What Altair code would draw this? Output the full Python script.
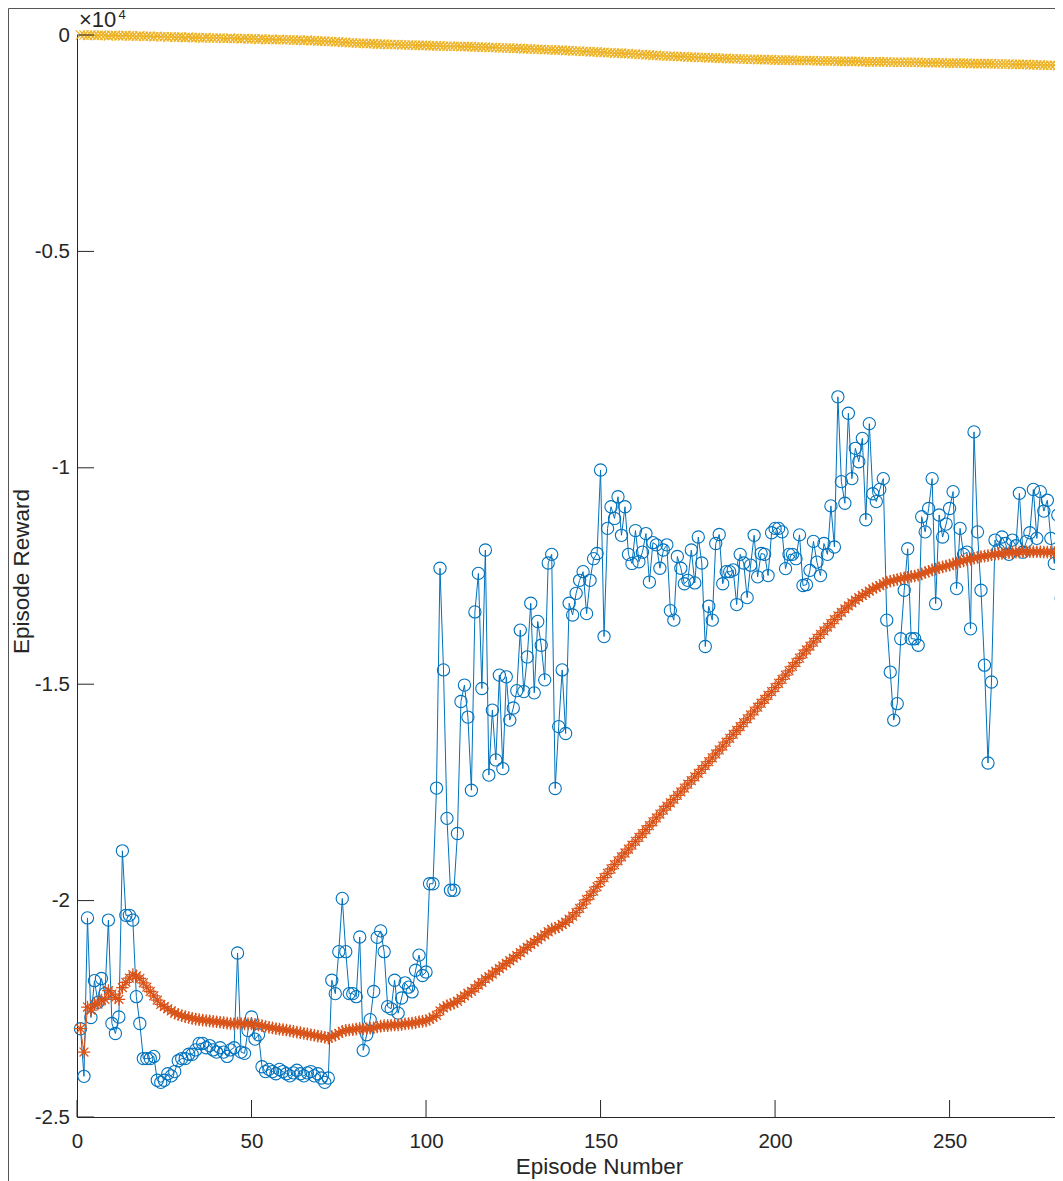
import altair as alt
import pandas as pd

# ---------------- data (rewards in units of 10^4) ----------------
episode_reward = [
    -2.296, -2.406, -2.040, -2.270, -2.185, -2.235, -2.180, -2.215, -2.045, -2.284,
    -2.307, -2.269, -1.885, -2.034, -2.034, -2.045, -2.222, -2.284, -2.365, -2.365,
    -2.365, -2.360, -2.415, -2.420, -2.415, -2.400, -2.405, -2.395, -2.370, -2.365,
    -2.365, -2.355, -2.355, -2.345, -2.330, -2.330, -2.340, -2.335, -2.345, -2.350,
    -2.340, -2.350, -2.360, -2.345, -2.340, -2.121, -2.350, -2.353, -2.300, -2.269,
    -2.320, -2.310, -2.384, -2.395, -2.390, -2.395, -2.400, -2.390, -2.395, -2.400,
    -2.405, -2.398, -2.392, -2.400, -2.405, -2.398, -2.395, -2.405, -2.400, -2.410,
    -2.420, -2.410, -2.184, -2.215, -2.118, -1.995, -2.118, -2.215, -2.215, -2.222,
    -2.084, -2.346, -2.310, -2.275, -2.210, -2.085, -2.070, -2.118, -2.245, -2.250,
    -2.184, -2.260, -2.225, -2.190, -2.200, -2.211, -2.161, -2.126, -2.173, -2.165,
    -1.961, -1.961, -1.740, -1.232, -1.467, -1.810, -1.976, -1.976, -1.845, -1.540,
    -1.502, -1.576, -1.745, -1.333, -1.244, -1.510, -1.190, -1.710, -1.560, -1.675,
    -1.479, -1.695, -1.483, -1.583, -1.555, -1.515, -1.375, -1.517, -1.437, -1.313,
    -1.520, -1.355, -1.410, -1.490, -1.220, -1.200, -1.741, -1.598, -1.467, -1.614,
    -1.313, -1.340, -1.290, -1.260, -1.240, -1.337, -1.260, -1.210, -1.198, -1.005,
    -1.390, -1.140, -1.090, -1.117, -1.067, -1.156, -1.090, -1.200, -1.221, -1.145,
    -1.217, -1.195, -1.152, -1.264, -1.173, -1.178, -1.232, -1.190, -1.178, -1.330,
    -1.352, -1.205, -1.232, -1.268, -1.260, -1.190, -1.266, -1.160, -1.220, -1.413,
    -1.320, -1.352, -1.175, -1.154, -1.268, -1.240, -1.240, -1.236, -1.316, -1.200,
    -1.220, -1.300, -1.225, -1.156, -1.252, -1.198, -1.200, -1.249, -1.150, -1.140,
    -1.140, -1.148, -1.233, -1.200, -1.200, -1.210, -1.155, -1.272, -1.270, -1.237,
    -1.170, -1.218, -1.249, -1.175, -1.200, -1.088, -1.183, -0.836, -1.032, -1.082,
    -0.874, -1.025, -0.955, -0.986, -0.932, -1.120, -0.898, -1.060, -1.078, -1.050,
    -1.025, -1.352, -1.472, -1.583, -1.545, -1.395, -1.283, -1.187, -1.395, -1.395,
    -1.410, -1.113, -1.148, -1.094, -1.025, -1.314, -1.109, -1.160, -1.130, -1.094,
    -1.055, -1.279, -1.140, -1.200, -1.195, -1.372, -0.917, -1.148, -1.283, -1.456,
    -1.682, -1.495, -1.167, -1.190, -1.160, -1.175, -1.200, -1.167, -1.180, -1.059,
    -1.195, -1.170, -1.150, -1.050, -1.163, -1.055, -1.100, -1.075, -1.163, -1.221,
    -1.109, -1.302, -1.200,
]

average_reward = [
    -2.296, -2.350, -2.246, -2.253, -2.239, -2.239, -2.230, -2.228, -2.208, -2.216,
    -2.224, -2.228, -2.201, -2.189, -2.179, -2.171, -2.174, -2.180, -2.190, -2.200,
    -2.210, -2.220, -2.230, -2.240, -2.245, -2.250, -2.255, -2.260, -2.263, -2.266,
    -2.268, -2.270, -2.272, -2.274, -2.275, -2.276, -2.277, -2.278, -2.279, -2.280,
    -2.281, -2.282, -2.283, -2.284, -2.285, -2.283, -2.284, -2.285, -2.285, -2.285,
    -2.286, -2.287, -2.289, -2.291, -2.293, -2.294, -2.296, -2.297, -2.298, -2.299,
    -2.301, -2.302, -2.304, -2.305, -2.307, -2.308, -2.310, -2.311, -2.313, -2.314,
    -2.316, -2.318, -2.314, -2.311, -2.307, -2.302, -2.300, -2.299, -2.298, -2.297,
    -2.295, -2.296, -2.296, -2.295, -2.294, -2.292, -2.290, -2.289, -2.289, -2.288,
    -2.287, -2.287, -2.286, -2.285, -2.284, -2.283, -2.282, -2.280, -2.279, -2.278,
    -2.274, -2.270, -2.265, -2.255, -2.248, -2.243, -2.240, -2.237, -2.233, -2.226,
    -2.220, -2.214, -2.210, -2.203, -2.195, -2.189, -2.181, -2.176, -2.170, -2.163,
    -2.157, -2.151, -2.145, -2.139, -2.133, -2.127, -2.120, -2.114, -2.108, -2.101,
    -2.096, -2.090, -2.084, -2.079, -2.072, -2.066, -2.064, -2.060, -2.055, -2.050,
    -2.043, -2.036, -2.028, -2.018, -2.008, -1.998, -1.988, -1.978, -1.968, -1.956,
    -1.947, -1.937, -1.927, -1.917, -1.908, -1.899, -1.890, -1.881, -1.872, -1.863,
    -1.854, -1.845, -1.836, -1.827, -1.818, -1.809, -1.800, -1.791, -1.782, -1.774,
    -1.766, -1.757, -1.749, -1.740, -1.731, -1.723, -1.714, -1.706, -1.697, -1.688,
    -1.679, -1.670, -1.661, -1.652, -1.643, -1.634, -1.625, -1.616, -1.607, -1.598,
    -1.589, -1.580, -1.571, -1.562, -1.553, -1.544, -1.535, -1.526, -1.517, -1.508,
    -1.498, -1.489, -1.479, -1.469, -1.459, -1.450, -1.440, -1.430, -1.421, -1.412,
    -1.403, -1.394, -1.385, -1.377, -1.368, -1.360, -1.351, -1.342, -1.334, -1.326,
    -1.319, -1.312, -1.306, -1.300, -1.295, -1.290, -1.285, -1.280, -1.276, -1.272,
    -1.268, -1.264, -1.262, -1.260, -1.258, -1.256, -1.254, -1.253, -1.251, -1.250,
    -1.248, -1.245, -1.242, -1.239, -1.236, -1.234, -1.231, -1.229, -1.227, -1.225,
    -1.222, -1.220, -1.217, -1.215, -1.213, -1.211, -1.209, -1.207, -1.205, -1.204,
    -1.203, -1.201, -1.200, -1.199, -1.198, -1.197, -1.196, -1.196, -1.195, -1.195,
    -1.194, -1.194, -1.194, -1.194, -1.194, -1.194, -1.195, -1.195, -1.195, -1.196,
    -1.196, -1.197, -1.198,
]

episode_q0 = [
    0.000, 0.000, -0.001, 0.000, -0.001, -0.001, 0.000, -0.001, -0.002, -0.001,
    -0.001, -0.002, -0.002, -0.001, -0.002, -0.002, -0.003, -0.002, -0.003, -0.003,
    -0.003, -0.004, -0.003, -0.004, -0.004, -0.005, -0.004, -0.005, -0.005, -0.005,
    -0.006, -0.005, -0.006, -0.006, -0.006, -0.007, -0.006, -0.007, -0.007, -0.007,
    -0.007, -0.008, -0.008, -0.007, -0.008, -0.008, -0.009, -0.008, -0.009, -0.009,
    -0.009, -0.010, -0.009, -0.010, -0.010, -0.010, -0.011, -0.010, -0.011, -0.011,
    -0.011, -0.012, -0.012, -0.012, -0.013, -0.012, -0.013, -0.013, -0.014, -0.014,
    -0.014, -0.015, -0.015, -0.016, -0.016, -0.017, -0.017, -0.018, -0.018, -0.019,
    -0.019, -0.019, -0.020, -0.020, -0.020, -0.021, -0.021, -0.021, -0.022, -0.022,
    -0.022, -0.022, -0.023, -0.023, -0.023, -0.023, -0.024, -0.024, -0.024, -0.024,
    -0.025, -0.025, -0.025, -0.025, -0.026, -0.026, -0.026, -0.026, -0.026, -0.027,
    -0.027, -0.027, -0.027, -0.028, -0.028, -0.028, -0.028, -0.029, -0.029, -0.029,
    -0.030, -0.030, -0.030, -0.030, -0.031, -0.031, -0.031, -0.032, -0.032, -0.032,
    -0.033, -0.033, -0.033, -0.034, -0.034, -0.034, -0.035, -0.035, -0.035, -0.036,
    -0.036, -0.037, -0.037, -0.037, -0.038, -0.038, -0.039, -0.039, -0.039, -0.040,
    -0.040, -0.041, -0.041, -0.042, -0.042, -0.042, -0.043, -0.043, -0.044, -0.044,
    -0.045, -0.045, -0.046, -0.046, -0.047, -0.047, -0.048, -0.048, -0.049, -0.049,
    -0.049, -0.050, -0.050, -0.050, -0.051, -0.051, -0.051, -0.052, -0.052, -0.052,
    -0.053, -0.053, -0.053, -0.054, -0.054, -0.054, -0.055, -0.055, -0.055, -0.055,
    -0.056, -0.056, -0.056, -0.056, -0.057, -0.057, -0.057, -0.057, -0.057, -0.058,
    -0.058, -0.058, -0.058, -0.058, -0.058, -0.059, -0.059, -0.059, -0.059, -0.059,
    -0.059, -0.060, -0.060, -0.060, -0.060, -0.060, -0.060, -0.061, -0.061, -0.061,
    -0.061, -0.061, -0.061, -0.061, -0.062, -0.062, -0.062, -0.062, -0.062, -0.062,
    -0.062, -0.062, -0.063, -0.063, -0.063, -0.063, -0.063, -0.063, -0.063, -0.063,
    -0.063, -0.064, -0.064, -0.064, -0.064, -0.064, -0.064, -0.064, -0.065, -0.065,
    -0.065, -0.065, -0.065, -0.065, -0.065, -0.066, -0.066, -0.066, -0.066, -0.066,
    -0.066, -0.066, -0.067, -0.067, -0.067, -0.067, -0.067, -0.068, -0.068, -0.068,
    -0.068, -0.068, -0.069, -0.069, -0.069, -0.069, -0.070, -0.070, -0.070, -0.070,
    -0.071, -0.071, -0.071,
]

episodes = list(range(1, len(episode_reward) + 1))

x_ticks = [0, 50, 100, 150, 200, 250]
y_ticks = [0, -0.5, -1, -1.5, -2, -2.5]
x_title = "Episode Number"
y_title = "Episode Reward"
exponent_base = ["×10"]
exponent_power = ["4"]

# ---------------- styling ----------------
PAD_L, PAD_T, PAD_B = 69, 27, 67
W, H = 978, 1082          # plot area
XMAX = 280.2              # 3.49 px per episode, as in the reference
FONT = "Liberation Sans"
AX = "#262626"
BLUE, ORANGE, YELLOW = "#0072BD", "#D95319", "#EDB120"
TICK = 17

ASTERISK = "M0,-1L0,1M-1,0L1,0M-0.7,-0.7L0.7,0.7M-0.7,0.7L0.7,-0.7"
XMARK = "M-1,-1L1,1M-1,1L1,-1"

x_scale = alt.Scale(domain=[0, XMAX], nice=False, zero=False)
y_scale = alt.Scale(domain=[-2.5, 0], nice=False, zero=False)

x_axis = alt.Axis(
    values=x_ticks, title=x_title, grid=False, ticks=False, tickSize=0,
    domainColor=AX, domainWidth=1, labelColor=AX, labelFont=FONT, labelFontSize=20.5,
    labelPadding=14, labelFlush=False, labelOverlap=False,
    titleFont=FONT, titleFontSize=22.5, titleFontWeight="normal", titleColor=AX,
    titleX=522, titleY=56, titleAlign="center", titleBaseline="alphabetic",
)
y_axis = alt.Axis(
    values=y_ticks, title=y_title, grid=False, ticks=False, tickSize=0,
    domainColor=AX, domainWidth=1, labelColor=AX, labelFont=FONT, labelFontSize=20.5,
    labelPadding=7.5, labelFlush=False, labelOverlap=False,
    labelExpr="'' + datum.value",
    titleFont=FONT, titleFontSize=22.5, titleFontWeight="normal", titleColor=AX,
    titleX=-49, titleY=536, titleAngle=270, titleAlign="center", titleBaseline="alphabetic",
)

df = pd.DataFrame({
    "Episode": episodes,
    "EpisodeReward": episode_reward,
    "AverageReward": average_reward,
    "EpisodeQ0": episode_q0,
})

base = alt.Chart(df)
X = alt.X("Episode:Q", scale=x_scale, axis=x_axis)


def Y(field):
    return alt.Y(field + ":Q", scale=y_scale, axis=y_axis)


blue_line = base.mark_line(color=BLUE, strokeWidth=1).encode(x=X, y=Y("EpisodeReward"))
blue_pts = base.mark_point(shape="circle", filled=False, size=150, strokeWidth=1.1,
                           color=BLUE, opacity=1).encode(x=X, y=Y("EpisodeReward"))
orange_line = base.mark_line(color=ORANGE, strokeWidth=1).encode(x=X, y=Y("AverageReward"))
orange_pts = base.mark_point(shape=ASTERISK, filled=False, size=160, strokeWidth=1.3,
                             color=ORANGE, opacity=1).encode(x=X, y=Y("AverageReward"))
yellow_line = base.mark_line(color=YELLOW, strokeWidth=1).encode(x=X, y=Y("EpisodeQ0"))
yellow_pts = base.mark_point(shape=XMARK, filled=False, size=85, strokeWidth=1.3,
                             color=YELLOW, opacity=1).encode(x=X, y=Y("EpisodeQ0"))

# inward-pointing ticks (MATLAB style)
xt = alt.Chart(pd.DataFrame({"tick": x_ticks})).mark_rule(color=AX, strokeWidth=1).encode(
    x=alt.X("tick:Q", scale=x_scale, axis=x_axis), y=alt.value(H), y2=alt.value(H - TICK))
yt = alt.Chart(pd.DataFrame({"tick": y_ticks})).mark_rule(color=AX, strokeWidth=1).encode(
    y=alt.Y("tick:Q", scale=y_scale, axis=y_axis), x=alt.value(0), x2=alt.value(TICK))

one = pd.DataFrame({"a": [0]})
frame_v = alt.Chart(one).mark_rule(color="#555555", strokeWidth=1).encode(
    x=alt.value(-PAD_L + 0.5), x2=alt.value(-PAD_L + 0.5),
    y=alt.value(-PAD_T + 0.5), y2=alt.value(H + PAD_B))
frame_h = alt.Chart(one).mark_rule(color="#555555", strokeWidth=1).encode(
    x=alt.value(-PAD_L + 0.5), x2=alt.value(W),
    y=alt.value(-PAD_T + 0.5), y2=alt.value(-PAD_T + 0.5))

exp_base = alt.Chart(pd.DataFrame({"t": exponent_base})).mark_text(
    font=FONT, fontSize=22, color=AX, align="left", baseline="alphabetic").encode(
    text="t:N", x=alt.value(2), y=alt.value(-8))
exp_pow = alt.Chart(pd.DataFrame({"t": exponent_power})).mark_text(
    font=FONT, fontSize=13, color=AX, align="left", baseline="alphabetic").encode(
    text="t:N", x=alt.value(41.5), y=alt.value(-16))

chart = alt.layer(
    blue_line, blue_pts, orange_line, orange_pts, yellow_line, yellow_pts,
    xt, yt, frame_v, frame_h, exp_base, exp_pow,
).properties(
    width=W, height=H,
    padding={"left": PAD_L, "top": PAD_T, "right": 0, "bottom": PAD_B},
    autosize=alt.AutoSizeParams(type="none"),
    background="white",
).configure_view(stroke=None)

chart.save("out.html", embed_options={"renderer": "svg", "actions": False})
